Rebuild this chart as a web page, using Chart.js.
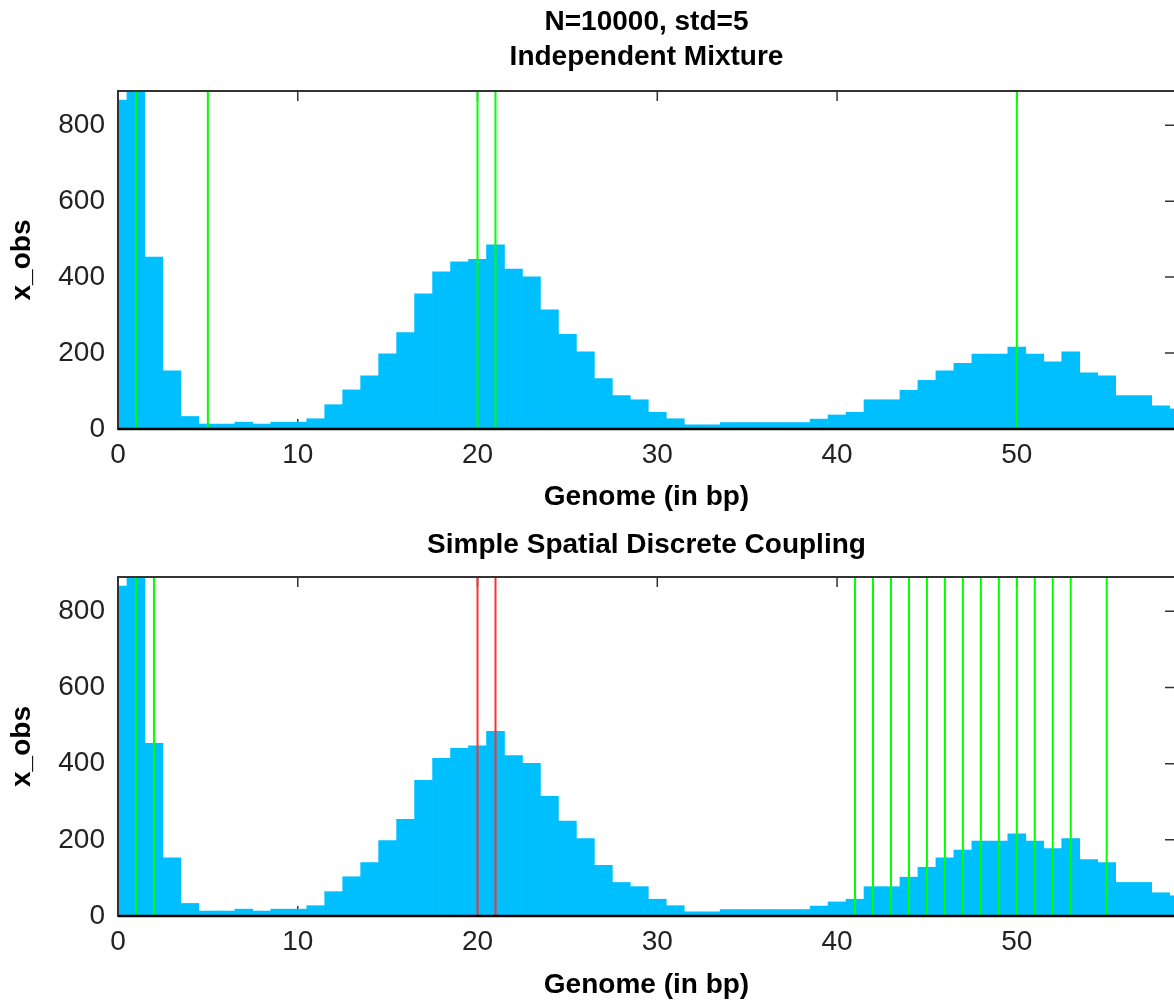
<!DOCTYPE html>
<html><head><meta charset="utf-8">
<script src="https://cdn.jsdelivr.net/npm/chart.js@4"></script>
<style>
html,body{margin:0;padding:0;background:#fff;overflow:hidden;}
#wrap{position:relative;width:1174px;height:1005px;overflow:hidden;background:#fff;}
canvas{position:absolute;left:0;}
</style></head><body>
<div id="wrap">
<canvas id="c1" width="1176" height="519" style="top:0px"></canvas>
<canvas id="c2" width="1176" height="486" style="top:519px"></canvas>
</div>
<script>
// ---- data ----
const binCenters = [0,1,2,3,4,5,6,7,8,9,10,11,12,13,14,15,16,17,18,19,20,21,22,23,24,25,26,27,28,29,30,31,32,33,34,35,36,37,38,39,40,41,42,43,44,45,46,47,48,49,50,51,52,53,54,55,56,57,58,59];
const counts = [866,1150,453,153,33,13,13,18,13,18,18,27,64,103,140,198,254,356,414,440,447,485,421,401,314,249,203,133,88,77,44,27,11,11,17,17,17,17,17,26,37,44,77,77,102,128,153,173,197,197,216,197,177,203,148,140,88,88,61,53];
const topGreenLines = [1,5,20,21,50];
const bottomGreenLines = [1,2,41,42,43,44,45,46,47,48,49,50,51,52,53,55];
const bottomRedLines = [20,21];
const xTickValues = [0,10,20,30,40,50];
const yTickValues = [0,200,400,600,800];
const topTitle = ['N=10000, std=5','Independent Mixture'];
const bottomTitle = ['Simple Spatial Discrete Coupling'];
const xLabel = 'Genome (in bp)';
const yLabel = 'x_obs';
const XMAX = 58.8, YMAX = 890;

const FAMILY = "'Liberation Sans', Arial, Helvetica, sans-serif";

const framePlugin = {
  id: 'frame',
  beforeDatasetsDraw(chart) {
    const {ctx, chartArea: a, scales: {x, y}} = chart;
    ctx.save();
    ctx.strokeStyle = '#333'; ctx.lineWidth = 1.5;
    ctx.beginPath();
    x.ticks.forEach(t => { const px = x.getPixelForValue(t.value);
      ctx.moveTo(px, a.bottom); ctx.lineTo(px, a.bottom - 10);
      ctx.moveTo(px, a.top); ctx.lineTo(px, a.top + 10); });
    y.ticks.forEach(t => { const py = y.getPixelForValue(t.value);
      ctx.moveTo(a.left, py); ctx.lineTo(a.left + 10, py);
      ctx.moveTo(a.right, py); ctx.lineTo(a.right - 10, py); });
    ctx.stroke(); ctx.restore();
  },
  afterDatasetsDraw(chart) {
    const {ctx, chartArea: a} = chart;
    ctx.save();
    ctx.strokeStyle = '#333'; ctx.lineWidth = 2;
    ctx.strokeRect(a.left, a.top, a.right - a.left, a.bottom - a.top);
    ctx.strokeStyle = '#000'; ctx.lineWidth = 2.5;
    ctx.beginPath(); ctx.moveTo(a.left, a.bottom); ctx.lineTo(a.right, a.bottom); ctx.stroke();
    ctx.restore();
  }
};

function vlines(positions, color) {
  return positions.map(p => ({
    type: 'line', data: [{x: p, y: 0}, {x: p, y: YMAX}],
    borderColor: color, borderWidth: 2, pointRadius: 0, order: 0, fill: false
  }));
}

function makeChart(id, title, titlePad, xAxisH, xTitlePadBottom, lineSets) {
  const bars = {
    type: 'bar',
    data: binCenters.map((c, i) => ({x: c, y: counts[i]})),
    backgroundColor: '#00BFFF', borderWidth: 0,
    barPercentage: 1, categoryPercentage: 1, order: 5
  };
  return new Chart(document.getElementById(id), {
    type: 'bar',
    data: {datasets: [...lineSets, bars]},
    options: {
      responsive: false, animation: false, devicePixelRatio: 1,
      layout: {padding: {left: 0, right: 1, top: 0, bottom: 0}},
      plugins: {
        legend: {display: false}, tooltip: {enabled: false},
        title: {display: true, text: title, color: '#000', fullSize: false,
          font: {family: FAMILY, size: 28, weight: 'bold', lineHeight: 1.25},
          padding: titlePad}
      },
      scales: {
        x: {
          type: 'linear', min: 0, max: XMAX, offset: false,
          grid: {display: false, drawTicks: false, offset: false}, border: {display: false},
          afterBuildTicks: s => { s.ticks = xTickValues.map(v => ({value: v})); },
          afterFit: s => { s.height = xAxisH; },
          ticks: {padding: 9, color: '#222', font: {family: FAMILY, size: 28}, maxRotation: 0, autoSkip: false, includeBounds: false},
          title: {display: true, text: xLabel, color: '#000', font: {family: FAMILY, size: 28, weight: 'bold'}, padding: {top: 0, bottom: xTitlePadBottom}}
        },
        y: {
          min: 0, max: YMAX,
          grid: {display: false, drawTicks: false}, border: {display: false},
          afterBuildTicks: s => { s.ticks = yTickValues.map(v => ({value: v})); },
          afterFit: s => { s.width = 118; },
          ticks: {padding: 13, color: '#222', font: {family: FAMILY, size: 28}, includeBounds: false},
          title: {display: true, text: yLabel, color: '#000', font: {family: FAMILY, size: 28, weight: 'bold'}, padding: {top: 5, bottom: 0}}
        }
      }
    },
    plugins: [framePlugin]
  });
}

makeChart('c1', topTitle, {top: 4.5, bottom: 16.5}, 90, 5.2, vlines(topGreenLines, '#00FF00'));
makeChart('c2', bottomTitle, {top: 8.5, bottom: 14.5}, 89, 3.2,
  [...vlines(bottomRedLines, '#FF3030'), ...vlines(bottomGreenLines, '#00FF00')]);
</script>
</body></html>
